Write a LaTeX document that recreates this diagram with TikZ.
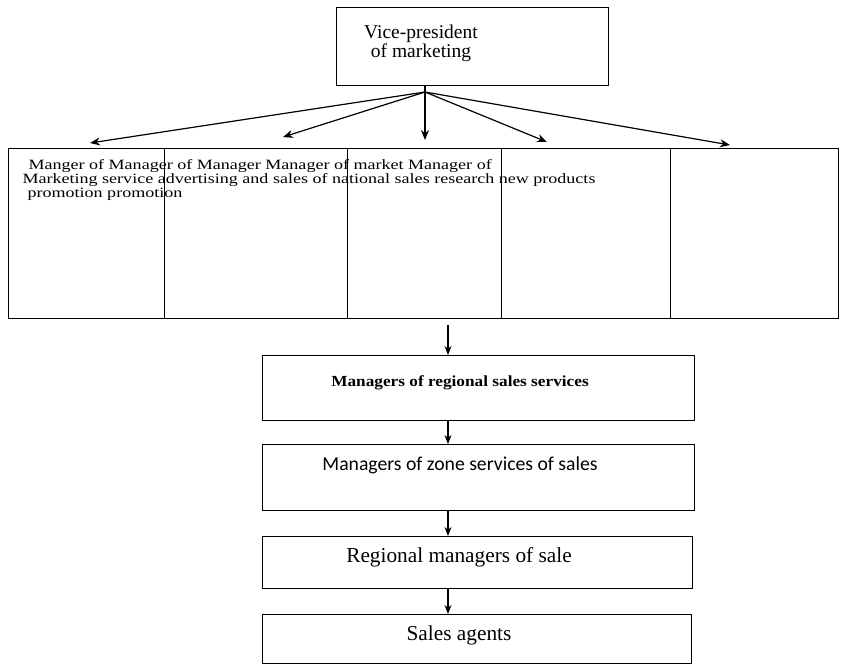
\documentclass[tikz,border=0pt]{standalone}
\usepackage{fontspec}
\setmainfont{Liberation Serif}
\newfontfamily\rowfont[FakeStretch=1.27]{Liberation Serif}
\newfontfamily\widebold[FakeStretch=1.12]{Liberation Serif Bold}
\newfontfamily\calfont{Carlito}
\usetikzlibrary{arrows.meta}
\begin{document}
\begin{tikzpicture}[x={(1pt,0)}, y={(0,-1pt)},
  every path/.style={line width=1.2pt},
  box/.style={draw, rectangle, inner sep=0pt, anchor=north west, line width=1.3pt},
  linetext/.style={anchor=base west, inner sep=0pt, font=\rowfont\fontsize{14.2}{14}\selectfont},
  lbl/.style={inner sep=0pt},
  tip/.style={-{Stealth[length=10pt,width=8pt]}},
  smalltip/.style={-{Stealth[length=9pt,width=7pt]}}]
\useasboundingbox (0,0) rectangle (843,665);

% top box
\node[box, minimum width=272pt, minimum height=78pt] (vp) at (336,7) {};
\node[lbl, anchor=base, font=\fontsize{19.5}{20}\selectfont] (vp1) at (421,38) {Vice-president};
\node[lbl, anchor=base, font=\fontsize{19.5}{20}\selectfont] (vp2) at (421,57) {of marketing};

% row of five department boxes
\node[box, minimum width=156pt, minimum height=170pt] (r1) at (8,148) {};
\node[box, minimum width=183pt, minimum height=170pt] (r2) at (164,148) {};
\node[box, minimum width=154pt, minimum height=170pt] (r3) at (347,148) {};
\node[box, minimum width=169pt, minimum height=170pt] (r4) at (501,148) {};
\node[box, minimum width=168pt, minimum height=170pt] (r5) at (670,148) {};

% department titles, running across the cells
\node[linetext] (t1) at (28,169.5) {Manger of Manager of Manager Manager of market Manager of};
\node[linetext] (t2) at (22,183.5) {Marketing service advertising and sales of national sales research new products};
\node[linetext] (t3) at (27,197.5) {promotion promotion};

% fan of arrows from the vice-president
\coordinate (hub) at (425,92);
\coordinate (a1) at (90,143);
\coordinate (a2) at (283,137);
\coordinate (a3) at (425,140);
\coordinate (a4) at (547,142);
\coordinate (a5) at (730,145);
\draw (vp.south -| hub) -- (hub);
\foreach \k in {1,...,5} \draw[tip] (hub) -- (a\k);

% sales chain
\node[box, minimum width=432pt, minimum height=65pt] (rs) at (262,355) {};
\node[box, minimum width=432pt, minimum height=66pt] (zs) at (262,444) {};
\node[box, minimum width=430pt, minimum height=52pt] (rm) at (262,536) {};
\node[box, minimum width=429pt, minimum height=49pt] (sa) at (262,614) {};

\node[lbl, font=\widebold\fontsize{15.4}{16}\selectfont] (rst) at (460,383) {Managers of regional sales services};
\node[lbl, font=\calfont\fontsize{19.7}{22}\selectfont] (zst) at (460,465) {Managers of zone services of sales};
\node[lbl, font=\fontsize{21.3}{24}\selectfont] (rmt) at (459,557) {Regional managers of sale};
\node[lbl, font=\fontsize{21.3}{24}\selectfont] (sat) at (459,635) {Sales agents};

\coordinate (ax) at (448,0);
\coordinate (s0) at (448,325);
\draw[smalltip] (s0) -- (rs.north -| ax);
\draw[smalltip] (rs.south -| ax) -- (zs.north -| ax);
\draw[smalltip] (zs.south -| ax) -- (rm.north -| ax);
\draw[smalltip] (rm.south -| ax) -- (sa.north -| ax);
\end{tikzpicture}
\end{document}
